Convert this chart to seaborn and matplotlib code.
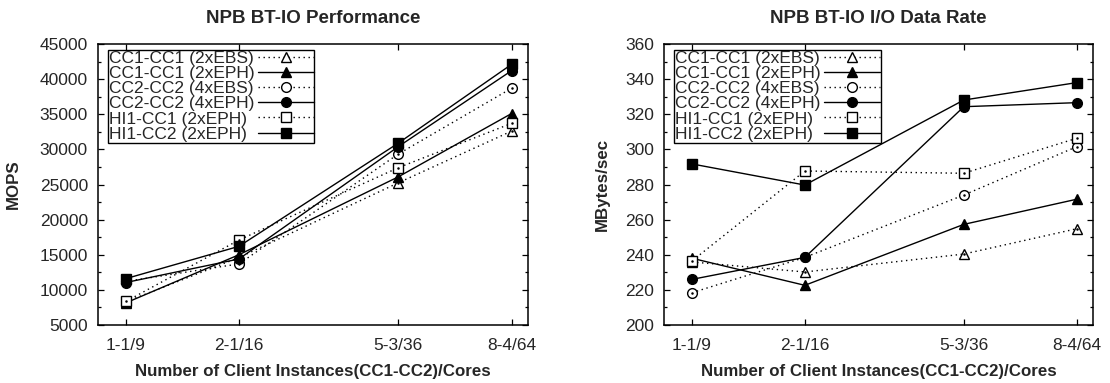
import types
import matplotlib
matplotlib.use("Agg")
import matplotlib.pyplot as plt
from matplotlib.ticker import FixedLocator, NullLocator, MultipleLocator
from matplotlib.transforms import Bbox
import seaborn as sns

# x positions: total cores for each client-instance configuration
cores = [9, 16, 36, 64]
tick_labels = ["1-1/9", "2-1/16", "5-3/36", "8-4/64"]

series_names = [
    "CC1-CC1 (2xEBS)",
    "CC1-CC1 (2xEPH)",
    "CC2-CC2 (4xEBS)",
    "CC2-CC2 (4xEPH)",
    "HI1-CC1 (2xEPH)",
    "HI1-CC2 (2xEPH)",
]

# NPB BT-IO performance (MOPS)
mops_cc1_ebs = [8300, 14600, 25250, 32600]
mops_cc1_eph = [8150, 15000, 26100, 35100]
mops_cc2_ebs = [11200, 13700, 29350, 38700]
mops_cc2_eph = [11050, 14400, 30400, 41200]
mops_hi1_cc1 = [8350, 17100, 27400, 33700]
mops_hi1_cc2 = [11600, 16200, 30900, 42100]

# NPB BT-IO I/O data rate (MBytes/sec)
rate_cc1_ebs = [235.9, 230.2, 240.4, 254.8]
rate_cc1_eph = [238.0, 222.6, 257.3, 271.6]
rate_cc2_ebs = [218.4, 238.5, 274.0, 301.5]
rate_cc2_eph = [226.0, 238.5, 324.3, 326.6]
rate_hi1_cc1 = [236.5, 287.7, 286.4, 306.3]
rate_hi1_cc2 = [291.7, 279.7, 328.1, 338.0]

mops = [mops_cc1_ebs, mops_cc1_eph, mops_cc2_ebs, mops_cc2_eph, mops_hi1_cc1, mops_hi1_cc2]
rates = [rate_cc1_ebs, rate_cc1_eph, rate_cc2_ebs, rate_cc2_eph, rate_hi1_cc1, rate_hi1_cc2]

dotted = (0, (1, 2.6))
styles = [
    dict(marker="^", mfc="white", ls=dotted, ms=7.5),
    dict(marker="^", mfc="black", ls="-", ms=7.5),
    dict(marker="o", mfc="white", ls=dotted, ms=7),
    dict(marker="o", mfc="black", ls="-", ms=7),
    dict(marker="s", mfc="white", ls=dotted, ms=7),
    dict(marker="s", mfc="black", ls="-", ms=7.5),
]

sns.set_style("ticks")
plt.rcParams["font.family"] = ["Liberation Sans", "DejaVu Sans"]

fig = plt.figure(figsize=(11.1, 3.83), dpi=100)
ax1 = fig.add_axes([0.0880, 0.1514, 0.3877, 0.7337])
ax2 = fig.add_axes([0.5982, 0.1514, 0.3865, 0.7337])


def left_align_legend_text(leg):
    """Keep legend labels flush left while the samples share one column."""
    column = leg._legend_handle_box.get_children()[0]
    text_areas = [item.get_children()[0] for item in column.get_children()]
    originals = [ta.get_bbox for ta in text_areas]

    def make(orig):
        def get_bbox(self, renderer):
            bb = orig(renderer)
            width = max(o(renderer).width for o in originals)
            return Bbox.from_bounds(bb.x0, bb.y0, width, bb.height)
        return get_bbox

    for ta, orig in zip(text_areas, originals):
        ta.get_bbox = types.MethodType(make(orig), ta)


def draw(ax, data, title, ylabel, ylim, ymajor, yminor, ylabel_x):
    for name, vals, st in zip(series_names, data, styles):
        sns.lineplot(
            x=cores, y=vals, ax=ax, color="black", lw=1.0,
            linestyle=st["ls"], marker=st["marker"], markersize=st["ms"],
            markerfacecolor=st["mfc"], markeredgecolor="black",
            markeredgewidth=1.0, label=name,
        )
        if st["mfc"] == "white":
            # small centre dot inside the open point symbols
            ax.plot(cores, vals, ls="none", marker=".", ms=1.6, color="black")
    ax.set_xscale("log")
    ax.set_xlim(7.8, 69.6)
    ax.set_ylim(*ylim)
    ax.xaxis.set_major_locator(FixedLocator(cores))
    ax.xaxis.set_minor_locator(NullLocator())
    ax.set_xticklabels(tick_labels)
    ax.yaxis.set_major_locator(MultipleLocator(ymajor))
    ax.yaxis.set_minor_locator(MultipleLocator(yminor))
    ax.tick_params(which="both", direction="in", top=True, right=True,
                   color="black", width=0.9)
    ax.tick_params(which="major", length=4.5, labelsize=12.5)
    ax.tick_params(axis="x", which="major", pad=9)
    ax.tick_params(axis="y", which="major", pad=7)
    ax.tick_params(which="minor", length=2.5)
    for sp in ax.spines.values():
        sp.set_visible(True)
        sp.set_color("black")
        sp.set_linewidth(1.1)
    ax.set_title(title, fontsize=13.5, fontweight="bold", pad=15)
    ax.set_xlabel("Number of Client Instances(CC1-CC2)/Cores",
                  fontsize=12.2, fontweight="bold", labelpad=8)
    ax.set_ylabel(ylabel, fontsize=12.2, fontweight="bold")
    ax.yaxis.set_label_coords(ylabel_x, 0.5)
    leg = ax.legend(
        loc="upper left", bbox_to_anchor=(0.024, 0.979), borderaxespad=0,
        markerfirst=False, fontsize=12.5, frameon=True, fancybox=False,
        edgecolor="black", framealpha=1, borderpad=0.05, labelspacing=0.0,
        handlelength=3.2, handletextpad=0.2,
    )
    leg.get_frame().set_linewidth(1.0)
    left_align_legend_text(leg)


draw(ax1, mops, "NPB BT-IO Performance", "MOPS", (5000, 45000), 5000, 2500, -0.178)
draw(ax2, rates, "NPB BT-IO I/O Data Rate", "MBytes/sec", (200, 360), 20, 10, -0.126)

fig.savefig("out.png", dpi=100)
